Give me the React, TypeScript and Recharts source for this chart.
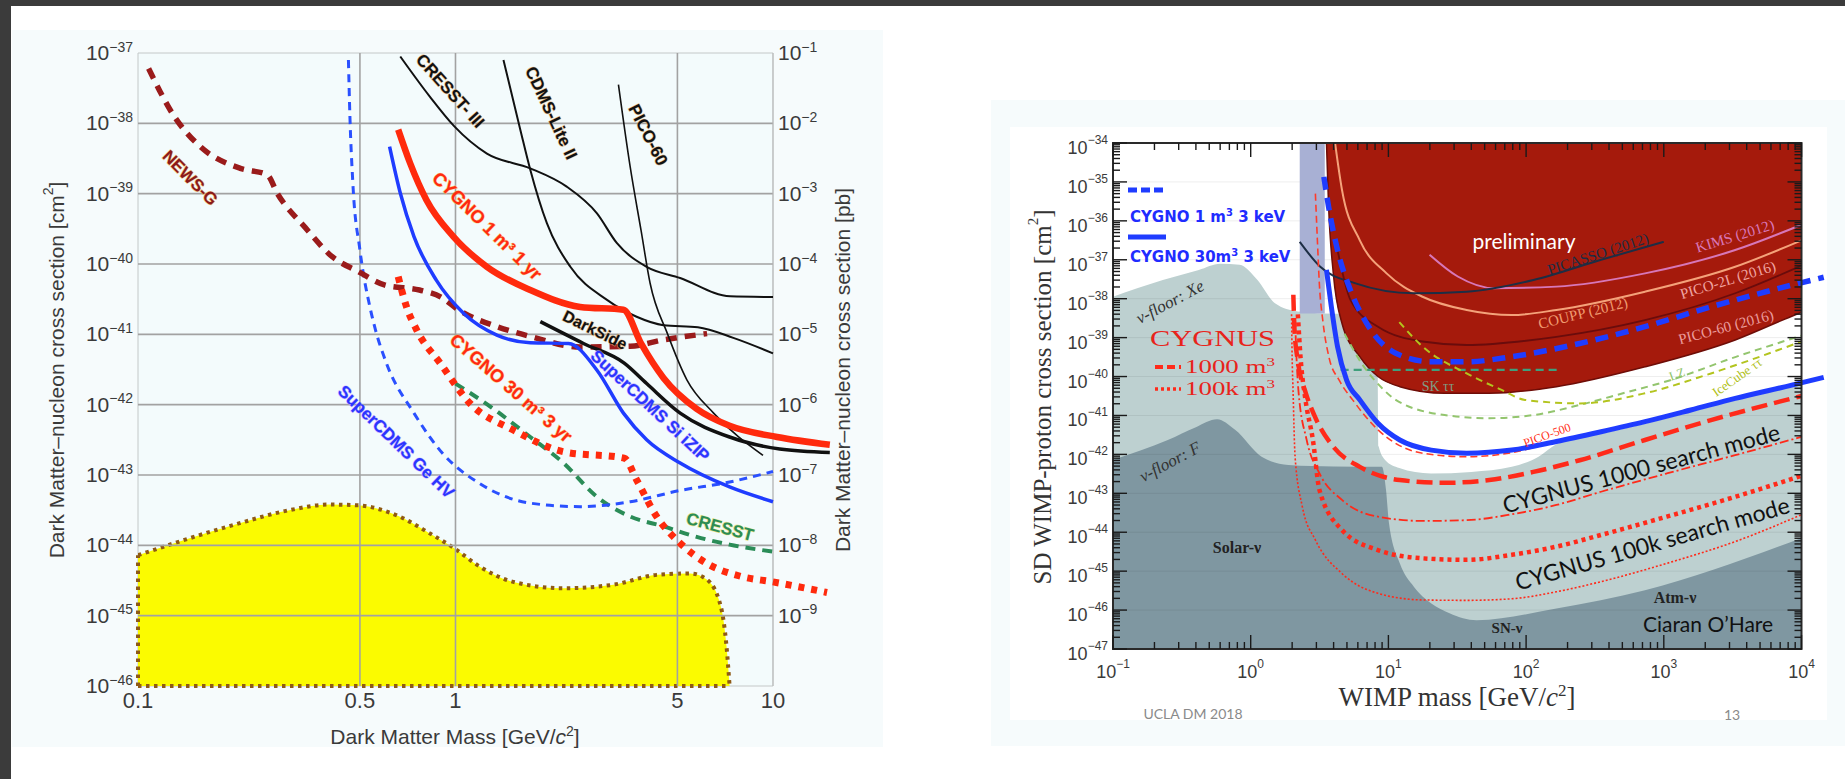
import React from 'react';
import { ComposedChart, Line, Area, XAxis, YAxis, ReferenceLine, ReferenceArea } from 'recharts';

// [WIMP mass in GeV/c², log10 of the cross section in cm²]
type Pt = [number, number];

const SANS = '"Liberation Sans", Arial, Helvetica, sans-serif';
const SERIF = '"Liberation Serif", "Times New Roman", serif';
const LATO = 'Lato, "Open Sans", sans-serif';
const MINUS = '\u2212';

// ---------- left panel: low-mass SI limits ----------
const massTicksL = [0.1, 0.5, 1, 5, 10];
const massTickLabelsL = ['0.1', '0.5', '1', '5', '10'];
const sigmaDecadesL = [-46, -45, -44, -43, -42, -41, -40, -39, -38, -37];
const PB_SHIFT = 36; // 1 pb = 1e-36 cm²

const newsG: Pt[] = [
  [0.108, -37.22], [0.13, -37.9], [0.157, -38.33], [0.21, -38.64], [0.255, -38.73], [0.275, -39.0],
  [0.336, -39.48], [0.41, -39.9], [0.49, -40.1], [0.6, -40.3], [0.77, -40.37], [0.9, -40.47],
  [1.02, -40.65], [1.35, -40.89], [1.72, -41.03], [2.47, -41.18], [3.55, -41.17], [4.5, -41.08], [6.2, -40.99],
];
const cresstIII: Pt[] = [
  [0.67, -37.05], [0.83, -37.62], [0.99, -38.04], [1.256, -38.43], [1.72, -38.64], [2.24, -38.9],
  [2.79, -39.28], [3.22, -39.7], [4.0, -40.04], [5.1, -40.2], [7.33, -40.46], [10, -40.47],
];
const cdmsLite: Pt[] = [
  [1.416, -37.1], [1.6, -38.09], [1.72, -38.66], [1.94, -39.42], [2.3, -40.04], [3.0, -40.51],
  [3.72, -40.75], [4.52, -40.87], [5.8, -40.9], [7.5, -41.05], [10, -41.27],
];
const pico60L: Pt[] = [
  [3.26, -37.45], [3.55, -38.62], [3.84, -39.52], [4.1, -40.27], [4.65, -40.99], [5.36, -41.65],
  [6.5, -42.12], [9.3, -42.72],
];
const darkSide: Pt[] = [
  [1.85, -40.82], [2.53, -41.13], [3.4, -41.41], [4.0, -41.7], [5.1, -42.12], [7.3, -42.46],
  [10.5, -42.63], [15.1, -42.68],
];
const cygno1m3: Pt[] = [
  [0.66, -38.09], [0.72, -38.57], [0.81, -39.09], [0.985, -39.61], [1.256, -40.04], [1.72, -40.37],
  [2.47, -40.61], [3.38, -40.65], [3.84, -41.13], [4.52, -41.62], [5.75, -42.06], [7.3, -42.3],
  [10.3, -42.46], [15.1, -42.57],
];
const cygno30m3: Pt[] = [
  [0.66, -40.18], [0.7, -40.6], [0.755, -40.94], [0.895, -41.41], [1.11, -41.98], [1.52, -42.36],
  [2.19, -42.67], [3.4, -42.76], [3.72, -43.07], [4.3, -43.59], [5.1, -43.97], [6.2, -44.26],
  [7.9, -44.44], [10, -44.52], [14.8, -44.67],
];
const superCdmsSi: Pt[] = [
  [0.62, -38.33], [0.67, -38.99], [0.74, -39.61], [0.87, -40.23], [1.06, -40.7], [1.35, -41.01],
  [1.72, -41.12], [2.27, -41.13], [2.79, -41.51], [3.38, -42.12], [4.0, -42.5], [5.1, -42.83],
  [7.3, -43.17], [10, -43.38],
];
const superCdmsGe: Pt[] = [
  [0.46, -37.1], [0.465, -37.9], [0.475, -38.85], [0.5, -39.8], [0.54, -40.65], [0.56, -40.94],
  [0.606, -41.41], [0.74, -42.12], [0.91, -42.69], [1.19, -43.12], [1.72, -43.4], [2.47, -43.45],
  [3.55, -43.38], [5.1, -43.22], [7.3, -43.1], [10, -42.95],
];
const cresst: Pt[] = [
  [1.0, -41.7], [1.29, -42.03], [1.72, -42.46], [2.19, -42.83], [2.79, -43.31], [3.55, -43.59],
  [4.52, -43.73], [5.75, -43.88], [7.3, -43.99], [10, -44.09],
];
const nuFloorL: Pt[] = [
  [0.1, -44.14], [0.2, -43.71], [0.3, -43.5], [0.4, -43.42], [0.49, -43.43], [0.65, -43.57],
  [0.83, -43.83], [0.99, -44.04], [1.19, -44.3], [1.52, -44.52], [2.19, -44.61], [3.14, -44.56],
  [4.3, -44.42], [5.5, -44.4], [6.2, -44.49], [6.85, -44.87], [7.14, -45.44], [7.3, -46.0],
];

// ---------- right panel: SD WIMP-proton ----------
const massDecadesR = [-1, 0, 1, 2, 3, 4];
const sigmaDecadesR = [-47, -46, -45, -44, -43, -42, -41, -40, -39, -38, -37, -36, -35, -34];
const minorSteps = [2, 3, 4, 5, 6, 7, 8, 9];

const xeFloor: Pt[] = [
  [0.1, -37.95], [0.23, -37.52], [0.42, -37.26], [0.6, -37.1], [0.83, -37.13], [1.12, -37.52],
  [1.5, -38.12], [2.2, -38.33], [3.4, -38.38], [8.3, -38.4], [8.5, -41.8], [9.5, -42.15],
  [12, -42.35], [20.4, -42.49], [40, -42.45], [78.7, -42.32], [123, -42.06], [166, -41.74],
  [350, -41.47], [730, -41.21], [1570, -40.91], [3300, -40.61], [10000, -40.22],
];
const fFloor: Pt[] = [
  [0.1, -42.14], [0.25, -41.63], [0.4, -41.3], [0.57, -41.1], [0.77, -41.37], [1.2, -42.06],
  [1.88, -42.27], [4, -42.31], [8.97, -42.32], [9.6, -42.9], [10.1, -43.77], [12.1, -44.8],
  [15.3, -45.4], [20.5, -45.83], [27.8, -46.08], [43.6, -46.26], [166, -45.96], [730, -45.49],
  [10000, -44.15],
];
const lavenderBand = { m1: 2.27, m2: 3.45, e1: -38.38, e2: -34 };
const pico60Excl: Pt[] = [
  [3.55, -34.0], [3.68, -35.64], [3.98, -37.35], [4.6, -38.63], [6.2, -39.49], [8.4, -40.0],
  [12.1, -40.26], [25.6, -40.43], [54, -40.43], [166, -40.26], [730, -39.75], [3300, -39.06],
  [8500, -38.45], [10000, -38.35],
];
const coupp: Pt[] = [
  [4.1, -34.0], [4.6, -35.2], [6.2, -36.5], [9.7, -37.35], [17.7, -37.95], [37, -38.29],
  [78.7, -38.42], [166, -38.29], [730, -37.82], [3300, -37.18], [10000, -36.5],
];
const kims: Pt[] = [
  [19.9, -36.87], [31.9, -37.43], [58.5, -37.73], [166, -37.69], [730, -37.35], [3300, -36.75], [10000, -36.1],
];
const picasso: Pt[] = [
  [2.27, -36.54], [3.2, -37.18], [5.7, -37.6], [15.3, -37.86], [37, -37.82], [113, -37.52],
  [350, -37.0], [1000, -36.54],
];
const pico2L: Pt[] = [
  [4.3, -36.8], [5.3, -38.03], [8.4, -38.72], [17.7, -39.1], [37, -39.19], [166, -38.98],
  [730, -38.55], [3300, -37.86], [10000, -37.15],
];
const pico500: Pt[] = [
  [2.95, -35.3], [3.05, -36.5], [3.15, -37.6], [3.35, -38.6], [3.7, -39.5], [4.4, -40.1],
  [5.5, -40.6], [8.4, -41.37], [17.7, -41.97], [37, -42.06], [80, -41.95], [150, -41.7],
];
const skTauTau: Pt[] = [[4.5, -39.83], [170, -39.83]];
const lz: Pt[] = [
  [4.8, -38.9], [6.5, -39.7], [9, -40.3], [11.3, -40.6], [25.6, -40.99], [54, -41.07], [113, -40.99],
  [245, -40.73], [505, -40.43], [1100, -40.1], [3300, -39.5], [10000, -38.95],
];
const iceCube: Pt[] = [
  [12, -38.6], [17.7, -39.23], [37, -39.92], [67, -40.35], [98, -40.6], [245, -40.69],
  [730, -40.43], [2200, -39.92], [10000, -39.1],
];
const cygnus1000: Pt[] = [
  [2.04, -37.9], [2.08, -38.8], [2.2, -39.6], [2.5, -40.4], [2.9, -41.0], [3.97, -41.8],
  [6.2, -42.32], [12.1, -42.66], [25.6, -42.73], [54, -42.66], [113, -42.45], [245, -42.15],
  [730, -41.63], [2200, -41.12], [10000, -40.5],
];
const cygnus1000Search: Pt[] = [
  [2.1, -38.5], [2.15, -39.5], [2.22, -40.35], [2.55, -41.63], [3.16, -42.49], [4.6, -43.17],
  [8.4, -43.6], [17.7, -43.71], [37, -43.69], [78.7, -43.54], [166, -43.3], [350, -42.96],
  [1050, -42.49], [3300, -42.02], [10000, -41.55],
];
const cygnus100k: Pt[] = [
  [2.2, -38.4], [2.3, -39.5], [2.5, -40.6], [2.83, -41.63], [3.16, -42.92], [4.6, -43.94],
  [8.4, -44.46], [17.7, -44.67], [37, -44.71], [78.7, -44.58], [166, -44.37], [350, -44.07],
  [1050, -43.6], [3300, -43.09], [10000, -42.55],
];
const cygnus100kSearch: Pt[] = [
  [1.98, -38.4], [2.0, -39.5], [2.03, -40.35], [2.1, -42.06], [2.37, -43.34], [2.95, -44.2],
  [4.6, -45.06], [8.4, -45.57], [17.7, -45.74], [37, -45.75], [78.7, -45.71], [166, -45.53],
  [350, -45.27], [1050, -44.8], [3300, -44.24], [10000, -43.55],
];
const cygno1m3keV: Pt[] = [
  [3.4, -34.87], [3.68, -35.64], [4.27, -36.75], [5.3, -37.78], [7.2, -38.72], [11.3, -39.4],
  [20.5, -39.62], [37, -39.62], [78.7, -39.49], [245, -39.15], [730, -38.72], [2200, -38.21],
  [8500, -37.65], [14500, -37.45],
];
const cygno30m3keV: Pt[] = [
  [3.55, -37.26], [3.85, -38.2], [4.27, -39.23], [4.97, -40.09], [6.2, -40.6], [8.4, -41.2],
  [12.1, -41.63], [20.5, -41.89], [37, -41.97], [78.7, -41.89], [166, -41.67], [350, -41.42],
  [730, -41.16], [1570, -40.86], [3300, -40.56], [8500, -40.22], [14500, -40.02],
];

const rows = (pts: Pt[]) => pts.map(([m, e]) => ({ m, s: Math.pow(10, e) }));
const pow = (e: number) => Math.pow(10, e);
const expOf = (v: number) => Math.round(Math.log10(v));
const expText = (e: number) => (e < 0 ? MINUS + Math.abs(e) : String(e));

// ---------- left panel ticks ----------
function MassTickL({ x, y, payload }: any) {
  const i = massTicksL.indexOf(payload.value);
  return (
    <text x={x} y={y + 22} textAnchor="middle" fontFamily={SANS} fontSize={22} fill="#3a3a3a">
      {massTickLabelsL[i]}
    </text>
  );
}

function SigmaTickL({ x, y, payload }: any) {
  const e = expOf(payload.value);
  const pb = e + PB_SHIFT;
  return (
    <g>
      <text x={x - 5} y={y + 7} textAnchor="end" fontFamily={SANS} fontSize={21} fill="#3a3a3a">
        10<tspan dy={-8.5} fontSize={14}>{expText(e)}</tspan>
      </text>
      {pb <= -1 && pb >= -9 && (
        <text x={778} y={y + 7} textAnchor="start" fontFamily={SANS} fontSize={21} fill="#3a3a3a">
          10<tspan dy={-8.5} fontSize={14}>{expText(pb)}</tspan>
        </text>
      )}
    </g>
  );
}

function LeftChart() {
  const gridStroke = '#a2a2a2';
  const line = (data: Pt[], color: string, width: number, dash?: string) => (
    <Line
      data={rows(data)}
      dataKey="s"
      type="monotone"
      stroke={color}
      strokeWidth={width}
      strokeDasharray={dash}
      dot={false}
      activeDot={false}
      isAnimationActive={false}
      zIndex={400}
    />
  );
  return (
    <ComposedChart width={900} height={779} margin={{ top: 53, left: 58, right: 62.2, bottom: 53 }}>
      <XAxis
        dataKey="m"
        type="number"
        scale="log"
        domain={[0.1, 16]}
        allowDataOverflow
        ticks={massTicksL}
        interval={0}
        height={40}
        tickSize={0}
        tickMargin={0}
        axisLine={false}
        tickLine={false}
        tick={(p: any) => <MassTickL {...p} />}
      />
      <YAxis
        type="number"
        scale="log"
        domain={[1e-46, 1e-37]}
        allowDataOverflow
        ticks={sigmaDecadesL.map(pow)}
        interval={0}
        width={80}
        tickSize={0}
        tickMargin={0}
        axisLine={false}
        tickLine={false}
        tick={(p: any) => <SigmaTickL {...p} />}
      />
      <ReferenceArea
        x1={0.1}
        x2={10}
        y1={1e-46}
        y2={1e-37}
        fill="#f3fbfc"
        fillOpacity={1}
        stroke="#c4c8c8"
        strokeWidth={1}
        zIndex={-10}
      />
      <Area
        data={rows(nuFloorL)}
        dataKey="s"
        type="monotone"
        baseValue={1e-46}
        fill="#fbfb00"
        fillOpacity={1}
        stroke="#8f5a14"
        strokeWidth={4}
        strokeDasharray="3.5 4.5"
        dot={false}
        activeDot={false}
        isAnimationActive={false}
        zIndex={100}
      />
      <ReferenceLine segment={[{ x: 0.1, y: 1e-46 }, { x: 7.3, y: 1e-46 }]} stroke="#8f5a14" strokeWidth={4} strokeDasharray="3.5 4.5" zIndex={120} />
      <ReferenceLine segment={[{ x: 0.1, y: 1e-46 }, { x: 0.1, y: pow(nuFloorL[0][1]) }]} stroke="#8f5a14" strokeWidth={4} strokeDasharray="3.5 4.5" zIndex={120} />
      {sigmaDecadesL.slice(1, -1).map((e) => (
        <ReferenceLine key={e} segment={[{ x: 0.1, y: pow(e) }, { x: 10, y: pow(e) }]} stroke={gridStroke} strokeWidth={1.6} zIndex={150} />
      ))}
      {[0.5, 1, 5].map((m) => (
        <ReferenceLine key={m} segment={[{ x: m, y: 1e-46 }, { x: m, y: 1e-37 }]} stroke={gridStroke} strokeWidth={1.6} zIndex={150} />
      ))}
      <ReferenceLine segment={[{ x: 10, y: 1e-46 }, { x: 10, y: 1e-37 }]} stroke="#b8b8b8" strokeWidth={1} zIndex={150} />
      {line(cresst, '#2a8c57', 4, '10 7')}
      {line(superCdmsGe, '#2a50ff', 3, '8 6')}
      {line(newsG, '#9a1b1b', 5.5, '11 8')}
      {line(cresstIII, '#111111', 2)}
      {line(cdmsLite, '#111111', 2)}
      {line(pico60L, '#111111', 1.6)}
      {line(darkSide, '#111111', 3.5)}
      {line(superCdmsSi, '#1f3cff', 3.5)}
      {line(cygno30m3, '#ff2a0d', 7, '6 7')}
      {line(cygno1m3, '#ff2a0d', 6.5)}
    </ComposedChart>
  );
}

// ---------- right panel ticks ----------
const R_TOP = 43;
const R_FRAME_RIGHT = 801.5;
const massTicksR = massDecadesR.flatMap((d) => [pow(d), ...(d < 4 ? minorSteps.map((k) => k * pow(d)) : [])]);
const sigmaTicksR = sigmaDecadesR.flatMap((d) => [pow(d), ...(d < -34 ? minorSteps.map((k) => k * pow(d)) : [])]);
const isMajor = (v: number) => {
  const l = Math.log10(v);
  return Math.abs(l - Math.round(l)) < 1e-6;
};

function MassTickR({ x, y, payload }: any) {
  const v = payload.value;
  const major = isMajor(v);
  const len = major ? 14 : 7;
  return (
    <g>
      <line x1={x} x2={x} y1={y} y2={y - len} stroke="#1a1a1a" strokeWidth={1.4} />
      <line x1={x} x2={x} y1={R_TOP} y2={R_TOP + len} stroke="#1a1a1a" strokeWidth={1.4} />
      {major && (
        <text x={x} y={y + 29} textAnchor="middle" fontFamily={SANS} fontSize={18} fill="#3a3a3a">
          10<tspan dy={-10} fontSize={12}>{expText(expOf(v))}</tspan>
        </text>
      )}
    </g>
  );
}

function SigmaTickR({ x, y, payload }: any) {
  const v = payload.value;
  const major = isMajor(v);
  const len = major ? 14 : 7;
  return (
    <g>
      <line x1={x} x2={x + len} y1={y} y2={y} stroke="#1a1a1a" strokeWidth={1.4} />
      <line x1={R_FRAME_RIGHT} x2={R_FRAME_RIGHT - len} y1={y} y2={y} stroke="#1a1a1a" strokeWidth={1.4} />
      {major && (
        <text x={x - 5} y={y + 11} textAnchor="end" fontFamily={SANS} fontSize={18} fill="#3a3a3a">
          10<tspan dy={-10} fontSize={12}>{expText(expOf(v))}</tspan>
        </text>
      )}
    </g>
  );
}

function RightChart() {
  const line = (data: Pt[], color: string, width: number, dash?: string, z = 400) => (
    <Line
      data={rows(data)}
      dataKey="s"
      type="monotone"
      stroke={color}
      strokeWidth={width}
      strokeDasharray={dash}
      dot={false}
      activeDot={false}
      isAnimationActive={false}
      zIndex={z}
    />
  );
  const area = (data: Pt[], color: string, base: number, z: number, stroke = 'none', sw = 0) => (
    <Area
      data={rows(data)}
      dataKey="s"
      type="monotone"
      baseValue={base}
      fill={color}
      fillOpacity={1}
      stroke={stroke}
      strokeWidth={sw}
      dot={false}
      activeDot={false}
      isAnimationActive={false}
      zIndex={z}
    />
  );
  return (
    <ComposedChart width={845} height={640} margin={{ top: 43, left: 53, right: 19.25, bottom: 51 }}>
      <XAxis
        dataKey="m"
        type="number"
        scale="log"
        domain={[0.1, 15000]}
        allowDataOverflow
        ticks={massTicksR}
        interval={0}
        height={40}
        tickSize={0}
        tickMargin={0}
        axisLine={false}
        tickLine={false}
        tick={(p: any) => <MassTickR {...p} />}
      />
      <YAxis
        type="number"
        scale="log"
        domain={[1e-47, 1e-34]}
        allowDataOverflow
        ticks={sigmaTicksR}
        interval={0}
        width={60}
        tickSize={0}
        tickMargin={0}
        axisLine={false}
        tickLine={false}
        tick={(p: any) => <SigmaTickR {...p} />}
      />
      <ReferenceArea x1={0.1} x2={10000} y1={1e-47} y2={1e-34} fill="#ffffff" fillOpacity={1} stroke="none" zIndex={-10} />
      {area(xeFloor, '#bdd0d0', 1e-47, 100)}
      {area(fFloor, '#7f97a1', 1e-47, 101)}
      {sigmaDecadesR.slice(1, -1).map((e) => (
        <ReferenceLine key={e} segment={[{ x: 0.1, y: pow(e) }, { x: 10000, y: pow(e) }]} stroke="#000000" strokeOpacity={0.07} strokeWidth={1} zIndex={110} />
      ))}
      <ReferenceArea
        x1={lavenderBand.m1}
        x2={lavenderBand.m2}
        y1={pow(lavenderBand.e1)}
        y2={pow(lavenderBand.e2)}
        fill="#a8b0d4"
        fillOpacity={1}
        stroke="none"
        zIndex={120}
      />
      {area(pico60Excl, '#a51a0c', 1e-34, 130, '#6e0d07', 1.5)}
      {line(coupp, '#f4a27a', 2)}
      {line(kims, '#d777b9', 2)}
      {line(picasso, '#1d2e45', 2)}
      {line(pico2L, '#6a0c0c', 1.8)}
      {line(pico500, '#ff3b2a', 1.6, '7 4')}
      {line(skTauTau, '#3f9f7c', 2.2, '8 5')}
      {line(lz, '#93c56e', 2, '7 5')}
      {line(iceCube, '#b3c41e', 2, '7 5')}
      {line(cygnus100kSearch, '#ff2a1a', 1.6, '2 2')}
      {line(cygnus1000Search, '#ff2a1a', 1.8, '9 3 2 3')}
      {line(cygnus100k, '#ff2a1a', 4.5, '4 4')}
      {line(cygnus1000, '#ff2a1a', 4.5, '16 7')}
      {line(cygno1m3keV, '#1f3cff', 5.5, '13 8')}
      {line(cygno30m3keV, '#1f3cff', 5)}
      <ReferenceArea x1={0.1} x2={10000} y1={1e-47} y2={1e-34} fill="none" stroke="#2a2a2a" strokeWidth={2} zIndex={450} />
    </ComposedChart>
  );
}

// ---------- annotations ----------
type Lbl = { t: string; x: number; y: number; a: number; c: string; s: number; f?: string; w?: string; halo?: string; it?: boolean };

const leftLabels: Lbl[] = [
  { t: 'NEWS-G', x: 190, y: 178, a: 45, c: '#8b1a1a', s: 17, halo: '#f4b860' },
  { t: 'CRESST- III', x: 450, y: 91, a: 48, c: '#111', s: 17, halo: '#e6b070' },
  { t: 'CDMS-Lite II', x: 551, y: 113, a: 65, c: '#111', s: 17, halo: '#e6b070' },
  { t: 'PICO-60', x: 648, y: 135, a: 63, c: '#111', s: 17, halo: '#e6b070' },
  { t: 'DarkSide', x: 595, y: 330, a: 26, c: '#111', s: 16, halo: '#e6b070' },
  { t: 'CYGNO 1 m\u00b3 1 yr', x: 487, y: 226, a: 44.5, c: '#ff2a10', s: 18, halo: '#ffc060' },
  { t: 'CYGNO 30 m\u00b3 3 yr', x: 511, y: 388, a: 41, c: '#ff2a10', s: 18, halo: '#ffc060' },
  { t: 'SuperCDMS Si iZIP', x: 650, y: 406, a: 43, c: '#2b35ff', s: 17, halo: '#b89cff' },
  { t: 'SuperCDMS Ge HV', x: 396, y: 442, a: 44, c: '#2b35ff', s: 17, halo: '#b89cff' },
  { t: 'CRESST', x: 720, y: 527, a: 15, c: '#2b8c57', s: 17, halo: '#e8e060' },
];

const rightLabels: Lbl[] = [
  { t: 'preliminary', x: 1524, y: 240, a: 0, c: '#ffffff', s: 21, f: LATO },
  { t: 'PICASSO (2012)', x: 1598, y: 254, a: -18, c: '#1c2d44', s: 15, f: SERIF },
  { t: 'KIMS (2012)', x: 1735, y: 236, a: -17, c: '#d977b8', s: 15, f: SERIF },
  { t: 'PICO-2L (2016)', x: 1728, y: 280, a: -17, c: '#f0a4a0', s: 15, f: SERIF },
  { t: 'COUPP (2012)', x: 1583, y: 313, a: -14, c: '#f09a70', s: 15, f: SERIF },
  { t: 'PICO-60 (2016)', x: 1726, y: 327, a: -15, c: '#eb9c9c', s: 15, f: SERIF },
  { t: 'SK \u03c4\u03c4', x: 1438, y: 386, a: 0, c: '#7f9f86', s: 14, f: SERIF },
  { t: 'LZ', x: 1677, y: 374, a: -20, c: '#8fc46a', s: 13, f: SERIF },
  { t: 'IceCube \u03c4\u03c4', x: 1737, y: 377, a: -35, c: '#b0c020', s: 13, f: SERIF },
  { t: 'PICO-500', x: 1547, y: 435, a: -20, c: '#ff3020', s: 12, f: SERIF },
  { t: 'CYGNUS 1000 search mode', x: 1641, y: 468, a: -15, c: '#111', s: 23, f: LATO },
  { t: 'CYGNUS 100k search mode', x: 1652, y: 543, a: -16, c: '#111', s: 23, f: LATO },
  { t: '\u03bd-floor: Xe', x: 1170, y: 302, a: -28, c: '#333', s: 17, f: SERIF, it: true },
  { t: '\u03bd-floor: F', x: 1170, y: 462, a: -28, c: '#333', s: 17, f: SERIF, it: true },
  { t: 'Solar-\u03bd', x: 1237, y: 547, a: 0, c: '#222', s: 16, f: SERIF, w: 'bold' },
  { t: 'Atm-\u03bd', x: 1675, y: 597, a: 0, c: '#222', s: 16, f: SERIF, w: 'bold' },
  { t: 'SN-\u03bd', x: 1507, y: 628, a: 0, c: '#222', s: 15, f: SERIF, w: 'bold' },
  { t: 'Ciaran O\u2019Hare', x: 1708, y: 623, a: 0, c: '#111', s: 21, f: LATO },
];

function Labels({ items }: { items: Lbl[] }) {
  return (
    <>
      {items.map((l) => (
        <text
          key={l.t + l.x}
          transform={`translate(${l.x},${l.y}) rotate(${l.a})`}
          textAnchor="middle"
          dominantBaseline="central"
          fontFamily={l.f || SANS}
          fontSize={l.s}
          fontWeight={l.w || (l.f ? 'normal' : 'bold')}
          fontStyle={l.it ? 'italic' : 'normal'}
          fill={l.c}
          stroke={l.halo || 'none'}
          strokeWidth={l.halo ? 1.2 : 0}
          strokeOpacity={0.7}
          style={{ paintOrder: 'stroke' }}
        >
          {l.t}
        </text>
      ))}
    </>
  );
}

function Overlay() {
  return (
    <svg width={1845} height={779} style={{ position: 'absolute', left: 0, top: 0, pointerEvents: 'none' }}>
      <Labels items={leftLabels} />
      <Labels items={rightLabels} />

      {/* left axis titles */}
      <text transform="translate(56,370) rotate(-90)" textAnchor="middle" dominantBaseline="central" fontFamily={SANS} fontSize={21} fill="#3a3a3a">
        Dark Matter{'\u2013'}nucleon cross section [cm<tspan dy={-8} fontSize={14}>2</tspan><tspan dy={8}>]</tspan>
      </text>
      <text transform="translate(842,370) rotate(-90)" textAnchor="middle" dominantBaseline="central" fontFamily={SANS} fontSize={21} fill="#3a3a3a">
        Dark Matter{'\u2013'}nucleon cross section [pb]
      </text>
      <text x={455} y={744} textAnchor="middle" fontFamily={SANS} fontSize={21} fill="#3a3a3a">
        Dark Matter Mass [GeV/<tspan fontStyle="italic">c</tspan><tspan dy={-8} fontSize={14}>2</tspan><tspan dy={8}>]</tspan>
      </text>

      {/* right axis titles */}
      <text transform="translate(1042,397) rotate(-90)" textAnchor="middle" dominantBaseline="central" fontFamily={SERIF} fontSize={25} fill="#333">
        SD WIMP-proton cross section [cm<tspan dy={-9} fontSize={15}>2</tspan><tspan dy={9}>]</tspan>
      </text>
      <text x={1457} y={706} textAnchor="middle" fontFamily={SERIF} fontSize={27} fill="#333">
        WIMP mass [GeV/<tspan fontStyle="italic">c</tspan><tspan dy={-10} fontSize={17}>2</tspan><tspan dy={10}>]</tspan>
      </text>

      {/* CYGNO legend */}
      <line x1={1128} x2={1166} y1={190} y2={190} stroke="#1f3cff" strokeWidth={5} strokeDasharray="9 4" />
      <text x={1130} y={222} fontFamily='"DejaVu Sans", sans-serif' fontWeight="bold" fontSize={15} fill="#1f2cff">
        CYGNO 1 m<tspan dy={-6} fontSize={10}>3</tspan><tspan dy={6}> 3 keV</tspan>
      </text>
      <line x1={1128} x2={1166} y1={237} y2={237} stroke="#1f3cff" strokeWidth={5} />
      <text x={1130} y={262} fontFamily='"DejaVu Sans", sans-serif' fontWeight="bold" fontSize={15} fill="#1f2cff">
        CYGNO 30m<tspan dy={-6} fontSize={10}>3</tspan><tspan dy={6}> 3 keV</tspan>
      </text>

      {/* CYGNUS legend */}
      <text x={1150} y={346} textLength={125} lengthAdjust="spacingAndGlyphs" fontFamily={SERIF} fontSize={24} fill="#e8231b">CYGNUS</text>
      <line x1={1155} x2={1181} y1={367} y2={367} stroke="#ff2a1a" strokeWidth={4} strokeDasharray="8 4" />
      <text x={1185} y={373} textLength={90} lengthAdjust="spacingAndGlyphs" fontFamily={SERIF} fontSize={19} fill="#e8231b">
        1000 m<tspan dy={-7} fontSize={12}>3</tspan>
      </text>
      <line x1={1155} x2={1181} y1={389} y2={389} stroke="#ff2a1a" strokeWidth={3.5} strokeDasharray="3 3" />
      <text x={1185} y={395} textLength={90} lengthAdjust="spacingAndGlyphs" fontFamily={SERIF} fontSize={19} fill="#e8231b">
        100k m<tspan dy={-7} fontSize={12}>3</tspan>
      </text>

      {/* slide footer */}
      <text x={1193} y={719} textAnchor="middle" fontFamily={LATO} fontSize={14} fill="#8a8a8a">UCLA DM 2018</text>
      <text x={1732} y={720} textAnchor="middle" fontFamily={LATO} fontSize={14} fill="#8a8a8a">13</text>
    </svg>
  );
}

export default function App() {
  return (
    <div style={{ position: 'absolute', left: 0, top: 0, width: 1845, height: 779, background: '#ffffff', overflow: 'hidden' }}>
      <div style={{ position: 'absolute', left: 0, top: 0, width: 1845, height: 6, background: '#3b3b3b' }} />
      <div style={{ position: 'absolute', left: 0, top: 0, width: 11, height: 779, background: '#3b3b3b' }} />
      <div style={{ position: 'absolute', left: 12, top: 30, width: 871, height: 717, background: '#f6fbfc' }} />
      <div style={{ position: 'absolute', left: 991, top: 100, width: 854, height: 646, background: '#f6fbfc' }} />
      <div style={{ position: 'absolute', left: 1010, top: 127, width: 817, height: 593, background: '#ffffff' }} />
      <div style={{ position: 'absolute', left: 0, top: 0 }}>
        <LeftChart />
      </div>
      <div style={{ position: 'absolute', left: 1000, top: 100 }}>
        <RightChart />
      </div>
      <Overlay />
    </div>
  );
}
